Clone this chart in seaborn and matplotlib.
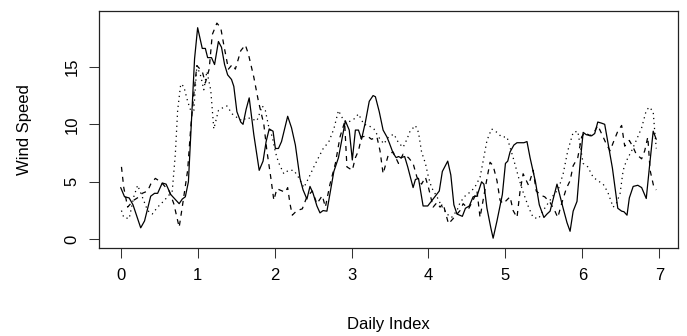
import numpy as np
import pandas as pd
import matplotlib
matplotlib.use("Agg")
import matplotlib.pyplot as plt
import seaborn as sns

# ---- data ----
solid_x = [0.00, 0.05, 0.11, 0.16, 0.26, 0.31, 0.39, 0.44, 0.48, 0.54, 0.59, 0.65, 0.76, 0.80, 0.84, 0.88,
           0.96, 1.00, 1.06, 1.10, 1.13, 1.18, 1.22, 1.27, 1.31, 1.35, 1.39, 1.44, 1.47, 1.51, 1.56, 1.59,
           1.63, 1.67, 1.73, 1.80, 1.85, 1.89, 1.93, 1.98, 2.01, 2.05, 2.09, 2.17, 2.22, 2.27, 2.33, 2.37,
           2.42, 2.46, 2.50, 2.55, 2.59, 2.63, 2.68, 2.72, 2.77, 2.83, 2.88, 2.92, 2.97, 3.01, 3.05, 3.09,
           3.13, 3.18, 3.23, 3.28, 3.31, 3.36, 3.41, 3.46, 3.49, 3.54, 3.58, 3.61, 3.64, 3.69, 3.73, 3.80,
           3.83, 3.87, 3.93, 3.99, 4.07, 4.14, 4.18, 4.25, 4.29, 4.33, 4.37, 4.44, 4.48, 4.53, 4.58, 4.63,
           4.69, 4.72, 4.76, 4.81, 4.84, 4.89, 4.96, 5.00, 5.03, 5.06, 5.11, 5.15, 5.24, 5.28, 5.32, 5.39,
           5.44, 5.50, 5.54, 5.58, 5.62, 5.67, 5.71, 5.75, 5.80, 5.84, 5.88, 5.93, 5.97, 6.01, 6.05, 6.12,
           6.16, 6.20, 6.25, 6.29, 6.33, 6.39, 6.46, 6.51, 6.54, 6.58, 6.61, 6.66, 6.72, 6.77, 6.83, 6.87,
           6.92, 6.96]
solid_y = [4.5, 3.7, 3.6, 3.0, 1.0, 1.6, 3.75, 4.0, 4.0, 4.9, 4.8, 3.9, 3.1, 3.5, 3.7, 5.0,
           15.7, 18.4, 16.6, 16.6, 15.8, 15.8, 15.2, 17.2, 16.7, 15.2, 14.3, 13.9, 13.3, 11.1, 10.2, 10.0,
           11.3, 12.3, 9.1, 6.0, 6.8, 8.5, 9.6, 9.4, 7.9, 7.9, 8.5, 10.7, 9.7, 8.2, 5.3, 4.3,
           3.5, 4.6, 4.0, 2.9, 2.3, 2.5, 2.45, 4.0, 5.9, 7.1, 8.9, 10.3, 9.5, 6.9, 9.5, 9.5,
           8.7, 10.2, 12.0, 12.5, 12.4, 11.1, 9.5, 8.9, 8.4, 7.5, 7.1, 7.2, 7.1, 7.2, 6.3, 4.5,
           5.2, 5.3, 2.9, 2.9, 3.6, 4.2, 5.9, 6.8, 5.6, 3.0, 2.2, 2.0, 2.7, 2.9, 3.7, 3.75,
           5.0, 4.8, 2.7, 1.0, 0.1, 1.6, 3.9, 6.6, 6.8, 7.6, 8.2, 8.4, 8.4, 8.5, 7.1, 5.0,
           3.0, 1.9, 2.2, 2.45, 3.5, 4.8, 3.75, 2.7, 1.45, 0.7, 2.45, 3.3, 6.6, 9.3, 9.1, 9.0,
           9.2, 10.2, 10.1, 10.0, 8.5, 6.2, 2.7, 2.45, 2.4, 2.1, 3.6, 4.6, 4.7, 4.5, 3.55, 6.2,
           9.4, 8.7]

dashed_x = [0.01, 0.04, 0.09, 0.13, 0.17, 0.24, 0.28, 0.35, 0.39, 0.45, 0.52, 0.63, 0.69, 0.76, 0.80, 0.87,
            0.91, 0.95, 0.99, 1.06, 1.10, 1.15, 1.19, 1.25, 1.30, 1.34, 1.40, 1.45, 1.49, 1.56, 1.62, 1.66,
            1.73, 1.79, 1.86, 1.90, 1.95, 1.99, 2.03, 2.10, 2.14, 2.17, 2.20, 2.23, 2.29, 2.36, 2.42, 2.49,
            2.55, 2.62, 2.66, 2.72, 2.79, 2.85, 2.91, 2.94, 3.01, 3.05, 3.09, 3.13, 3.20, 3.26, 3.33, 3.37,
            3.41, 3.48, 3.54, 3.61, 3.67, 3.74, 3.80, 3.85, 3.91, 3.96, 4.00, 4.06, 4.11, 4.15, 4.19, 4.26,
            4.32, 4.41, 4.45, 4.52, 4.58, 4.63, 4.67, 4.71, 4.76, 4.80, 4.84, 4.89, 4.93, 4.97, 5.06, 5.10,
            5.15, 5.19, 5.23, 5.30, 5.36, 5.40, 5.47, 5.51, 5.58, 5.64, 5.68, 5.73, 5.79, 5.84, 5.88, 5.94,
            5.99, 6.03, 6.10, 6.16, 6.20, 6.27, 6.31, 6.36, 6.40, 6.46, 6.51, 6.55, 6.61, 6.66, 6.70, 6.77,
            6.81, 6.85, 6.88, 6.93, 6.96]
dashed_y = [6.3, 4.5, 2.8, 3.1, 3.4, 3.7, 4.0, 4.2, 4.8, 5.3, 5.0, 4.2, 3.1, 1.05, 2.8, 6.0,
            9.7, 12.6, 15.1, 14.6, 13.6, 14.8, 17.8, 18.8, 18.4, 16.9, 14.8, 15.2, 14.8, 16.4, 16.9, 16.1,
            14.1, 12.0, 10.0, 7.7, 5.4, 3.4, 4.4, 4.2, 4.1, 4.5, 3.1, 2.1, 2.5, 2.65, 3.7, 4.2,
            3.1, 3.8, 2.8, 4.8, 6.6, 8.9, 10.2, 6.3, 6.0, 7.1, 7.7, 8.9, 9.0, 8.7, 8.9, 7.7,
            5.7, 7.4, 7.6, 6.6, 7.4, 7.1, 6.6, 5.4, 4.8, 5.4, 4.5, 2.8, 3.2, 2.8, 3.1, 1.35,
            1.8, 2.5, 3.1, 2.65, 3.4, 4.2, 1.9, 3.4, 5.3, 6.7, 6.4, 5.1, 3.4, 3.1, 3.7, 2.5,
            1.9, 4.2, 5.7, 4.7, 6.0, 4.2, 3.8, 3.7, 3.2, 2.5, 1.9, 3.1, 4.4, 5.1, 6.4, 7.1,
            8.9, 9.3, 9.0, 9.4, 9.9, 8.9, 8.3, 7.7, 8.4, 9.4, 9.9, 8.1, 8.6, 8.0, 7.4, 7.0,
            7.7, 8.9, 6.0, 4.5, 4.3]

dotted_x = [0.01, 0.04, 0.11, 0.17, 0.22, 0.28, 0.35, 0.41, 0.48, 0.54, 0.61, 0.67, 0.71, 0.74, 0.78, 0.82,
            0.87, 0.91, 0.95, 0.99, 1.04, 1.08, 1.12, 1.17, 1.21, 1.27, 1.34, 1.38, 1.45, 1.51, 1.58, 1.64,
            1.71, 1.77, 1.84, 1.88, 1.92, 1.97, 2.01, 2.05, 2.12, 2.18, 2.25, 2.31, 2.38, 2.44, 2.51, 2.57,
            2.64, 2.70, 2.77, 2.83, 2.90, 2.96, 3.03, 3.09, 3.16, 3.22, 3.29, 3.35, 3.42, 3.48, 3.55, 3.61,
            3.67, 3.72, 3.76, 3.83, 3.87, 3.91, 3.96, 4.00, 4.04, 4.11, 4.17, 4.24, 4.30, 4.37, 4.41, 4.48,
            4.54, 4.60, 4.67, 4.71, 4.76, 4.82, 4.89, 4.95, 5.02, 5.06, 5.10, 5.17, 5.23, 5.30, 5.36, 5.43,
            5.49, 5.56, 5.62, 5.69, 5.75, 5.81, 5.88, 5.94, 6.01, 6.07, 6.14, 6.20, 6.27, 6.33, 6.40, 6.44,
            6.49, 6.53, 6.57, 6.64, 6.70, 6.77, 6.83, 6.87, 6.92, 6.94, 6.96]
dotted_y = [2.5, 1.9, 1.8, 3.7, 4.7, 3.7, 2.5, 2.2, 2.8, 3.2, 3.7, 4.2, 7.4, 11.2, 13.5, 13.3,
            12.0, 11.2, 11.2, 15.1, 14.2, 13.0, 14.6, 13.0, 9.6, 11.2, 11.5, 11.6, 10.9, 10.6, 10.3, 10.6,
            10.45, 10.3, 11.6, 11.2, 9.9, 8.9, 7.6, 6.7, 5.7, 6.0, 6.0, 5.4, 4.5, 5.3, 6.3, 7.1,
            8.0, 8.4, 9.6, 11.2, 10.3, 10.2, 10.45, 10.9, 10.0, 9.9, 9.6, 8.9, 8.3, 8.9, 9.15, 8.4,
            8.0, 8.7, 9.4, 9.9, 9.3, 7.6, 6.6, 5.4, 4.5, 3.7, 2.9, 2.2, 1.9, 2.5, 3.2, 3.8,
            4.1, 4.5, 5.4, 6.8, 8.6, 9.6, 9.3, 8.9, 8.9, 8.0, 7.1, 5.4, 4.1, 2.8, 1.9, 1.8,
            2.5, 3.2, 3.8, 4.4, 5.7, 7.7, 9.3, 9.4, 6.6, 6.3, 5.4, 5.1, 4.8, 4.1, 2.8, 3.1,
            4.0, 6.0, 6.8, 7.7, 8.6, 9.7, 11.2, 11.5, 11.1, 9.4, 7.9]

x_ticks = [0, 1, 2, 3, 4, 5, 6, 7]
y_ticks = [0, 5, 10, 15]

df = pd.concat([
    pd.DataFrame({"x": solid_x, "y": solid_y, "series": "a"}),
    pd.DataFrame({"x": dashed_x, "y": dashed_y, "series": "b"}),
    pd.DataFrame({"x": dotted_x, "y": dotted_y, "series": "c"}),
], ignore_index=True)

sns.set_style("white")
plt.rcParams["font.family"] = ["Liberation Sans", "DejaVu Sans"]
plt.rcParams["text.color"] = "black"
plt.rcParams["xtick.color"] = "black"
plt.rcParams["ytick.color"] = "black"

W, H = 687, 336
fig = plt.figure(figsize=(W / 100, H / 100), dpi=100)
left, right, top, bottom = 99.3, 677.5, 10.7, 248.3
ax = fig.add_axes([left / W, 1 - bottom / H, (right - left) / W, (bottom - top) / H])

sns.lineplot(data=df, x="x", y="y", style="series",
             dashes={"a": "", "b": (4, 4), "c": (1, 3)},
             color="black", linewidth=0.9, estimator=None, sort=False,
             legend=False, ax=ax)

ax.set_xlim(-0.278, 7.236)
ax.set_ylim(-0.78, 19.88)
ax.set_xticks(x_ticks)
ax.set_xticklabels([str(t) for t in x_ticks], fontsize=12, color="black")
ax.set_yticks(y_ticks)
ax.set_yticklabels([str(t) for t in y_ticks], fontsize=12, rotation=90, va="center", color="black")
ax.tick_params(axis="both", direction="out", length=7.2, width=0.75, color="#333333",
               pad=7, left=True, bottom=True)
for s in ax.spines.values():
    s.set_visible(True)
    s.set_color("#222222")
    s.set_linewidth(0.9)
ax.set_xlabel("")
ax.set_ylabel("")
fig.text((left + right) / 2 / W, 1 - 325 / H, "Daily Index", ha="center", va="center",
         fontsize=12, color="black")
fig.text(25 / W, 1 - (top + bottom) / 2 / H, "Wind Speed", ha="center", va="center",
         fontsize=12, rotation=90, color="black")

fig.savefig("out.png", dpi=100)
